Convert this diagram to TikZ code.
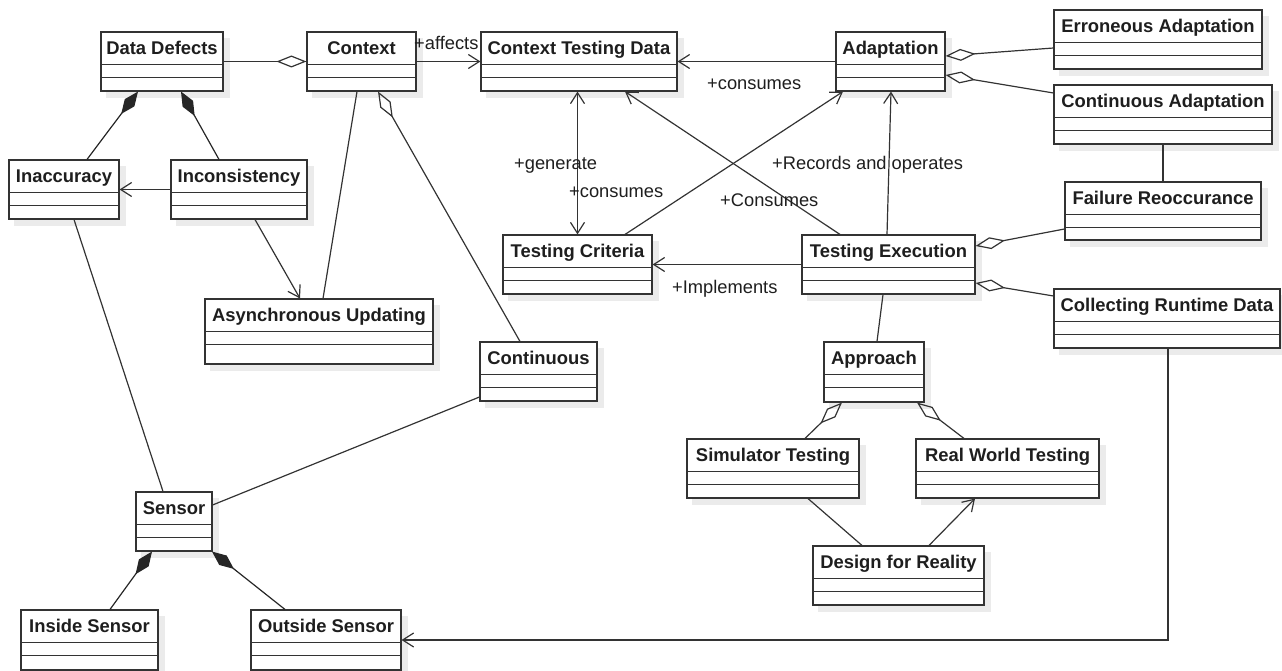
\documentclass[tikz,border=0pt]{standalone}
\usepackage{fontspec}
\setmainfont{Liberation Sans}
\usetikzlibrary{arrows.meta,calc}
\definecolor{ln}{HTML}{333333}
\definecolor{tx}{HTML}{1E1E1E}
\definecolor{shd}{HTML}{EBEBEB}
\tikzset{
  clsbox/.style={rectangle, draw=ln, fill=white, line width=1.1pt, inner sep=0pt},
  clsline/.style={draw=ln, line width=1.1pt},
  clsname/.style={font=\fontsize{18.4}{21}\selectfont\bfseries, text=tx, inner sep=0pt, anchor=base},
  lbl/.style={font=\fontsize{18.3}{21}\selectfont, text=tx, inner sep=0pt, anchor=base west},
  con/.style={draw=ln, line width=1.2pt},
  arr/.style={con, -{Straight Barb[length=11pt,width=14pt]}},
  dbl/.style={con, {Straight Barb[length=11pt,width=14pt]}-{Straight Barb[length=11pt,width=14pt]}},
  agg/.style={con, -{Diamond[open,length=30pt,width=12pt]}},
  comp/.style={con, draw=black!85, -{Diamond[length=28pt,width=12pt]}},
}
\newcommand\umlclass[6]{%
  \fill[shd] ({#2+5},{-#3-6}) rectangle ({#4+7},{-#5-7});
  \node[clsbox, minimum width={(#4-#2)*1pt}, minimum height={(#5-#3)*1pt}] (#1) at ({(#2+#4)/2},{-(#3+#5)/2}) {};
  \draw[clsline] ([yshift=-33pt]#1.north west) -- ([yshift=-33pt]#1.north east);
  \draw[clsline] ([yshift=-46pt]#1.north west) -- ([yshift=-46pt]#1.north east);
  \node[clsname] at ([yshift=-23pt]#1.north) {#6};
}
\begin{document}
\begin{tikzpicture}[x=1pt,y=1pt]
\useasboundingbox (0,0) rectangle (1282,-671);
% classes
\umlclass{dd}{101}{32}{223}{91}{Data Defects}
\umlclass{ctx}{307}{32}{416}{91}{Context}
\umlclass{ctd}{481}{32}{677}{91}{Context Testing Data}
\umlclass{adp}{836}{32}{945}{91}{Adaptation}
\umlclass{erra}{1054}{10}{1262}{69}{Erroneous Adaptation}
\umlclass{conta}{1054}{85}{1272}{144}{Continuous Adaptation}
\umlclass{fail}{1065}{182}{1261}{240}{Failure Reoccurance}
\umlclass{crd}{1054}{289}{1280}{348}{Collecting Runtime Data}
\umlclass{tcrit}{503}{235}{652}{294}{Testing Criteria}
\umlclass{texe}{802}{235}{975}{294}{Testing Execution}
\umlclass{inacc}{9}{160}{119}{219}{Inaccuracy}
\umlclass{incons}{171}{160}{307}{219}{Inconsistency}
\umlclass{async}{205}{299}{433}{364}{Asynchronous Updating}
\umlclass{cont}{480}{342}{597}{401}{Continuous}
\umlclass{sensor}{136}{492}{212}{551}{Sensor}
\umlclass{insens}{21}{610}{158}{670}{Inside Sensor}
\umlclass{outsens}{251}{610}{401}{670}{Outside Sensor}
\umlclass{appr}{824}{342}{924}{402}{Approach}
\umlclass{sim}{687}{439}{859}{498}{Simulator Testing}
\umlclass{real}{916}{439}{1099}{498}{Real World Testing}
\umlclass{dfr}{813}{546}{984}{605}{Design for Reality}
% connectors
\draw[agg] (dd.east) -- (ctx.west);
\draw[arr] (ctx.east) -- (ctd.west);
\draw[arr] (adp.west) -- (ctd.east);
\draw[agg] ([yshift=-8.5pt]erra.west) -- ([yshift=5.5pt]adp.east);
\draw[agg] ([yshift=21.5pt]conta.west) -- ([yshift=-13.5pt]adp.east);
\draw[con] (conta.south) -- (fail.north);
\draw[agg] ([yshift=-18pt]fail.west) -- ([yshift=18.5pt]texe.east);
\draw[agg] ([yshift=22.5pt]crd.west) -- ([yshift=-18.5pt]texe.east);
\draw[arr] ([xshift=1pt]crd.south) |- (outsens.east);
\draw[dbl] (tcrit.north |- ctd.south) -- (tcrit.north);
\draw[arr] ([xshift=47.5pt]tcrit.north) -- ([xshift=-47.5pt]adp.south);
\draw[arr] ([xshift=-48.5pt]texe.north) -- ([xshift=46pt]ctd.south);
\draw[arr] ([xshift=-1.5pt]texe.north) -- ([xshift=0.5pt]adp.south);
\draw[arr] (texe.west) -- (tcrit.east);
\draw[con] ([xshift=-5.5pt]texe.south) -- ([xshift=3pt]appr.north);
\draw[agg] ([xshift=32pt]sim.north) -- ([xshift=-32pt]appr.south);
\draw[agg] ([xshift=-43.5pt]real.north) -- ([xshift=43pt]appr.south);
\draw[con] ([xshift=35pt]sim.south) -- ([xshift=-36.5pt]dfr.north);
\draw[arr] ([xshift=30.5pt]dfr.north) -- ([xshift=-32.5pt]real.south);
\draw[con] ([xshift=-4.5pt]ctx.south) -- ([xshift=4pt]async.north);
\draw[agg] ([xshift=-18.5pt]cont.north) -- ([xshift=16.5pt]ctx.south);
\draw[arr] (incons.west) -- (inacc.east);
\draw[arr] ([xshift=16pt]incons.south) -- ([xshift=-19pt]async.north);
\draw[comp] ([xshift=23pt]inacc.north) -- ([xshift=-24pt]dd.south);
\draw[comp] ([xshift=-20pt]incons.north) -- ([xshift=19pt]dd.south);
\draw[con] ([xshift=10pt]inacc.south) -- ([xshift=-11pt]sensor.north);
\draw[con] ([yshift=-25.5pt]cont.west) -- ([yshift=16.5pt]sensor.east);
\draw[comp] ([xshift=20.5pt]insens.north) -- ([xshift=-22pt]sensor.south);
\draw[comp] ([xshift=-41pt]outsens.north) -- ([xshift=38pt]sensor.south);
% labels
\node[lbl] (laff) at (414,-50) {+affects};
\node[lbl] (lcons1) at (707,-90) {+consumes};
\node[lbl] (lgen) at (514,-170) {+generate};
\node[lbl] (lcons2) at (569,-198) {+consumes};
\node[lbl] (lrec) at (772,-170) {+Records and operates};
\node[lbl] (lcons3) at (720,-207) {+Consumes};
\node[lbl] (limp) at (672,-293) {+Implements};
\end{tikzpicture}
\end{document}
